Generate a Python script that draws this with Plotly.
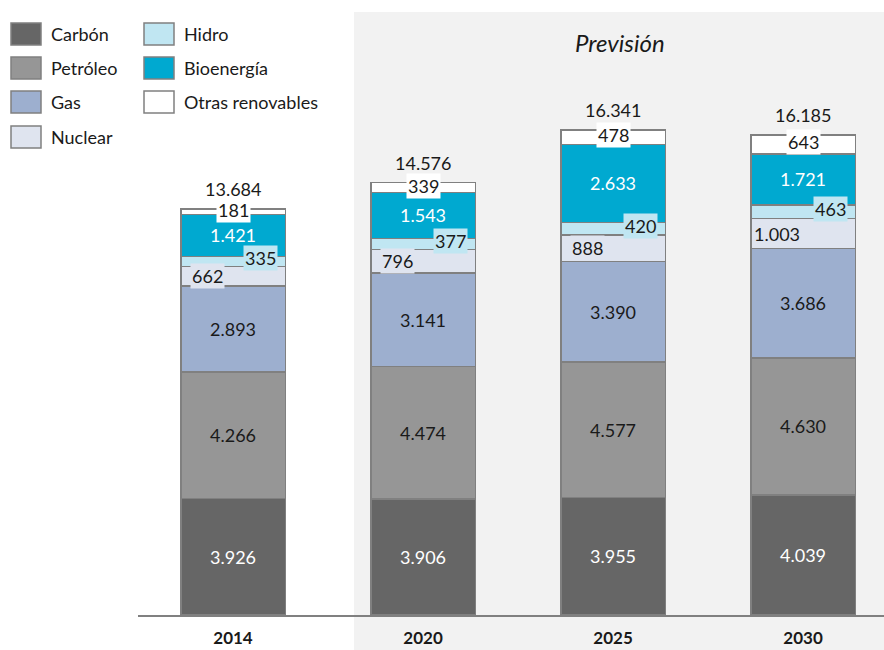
import plotly.graph_objects as go

# Datos (ktep)
years = ["2014", "2020", "2025", "2030"]
carbon = [3926, 3906, 3955, 4039]
petroleo = [4266, 4474, 4577, 4630]
gas = [2893, 3141, 3390, 3686]
nuclear = [662, 796, 888, 1003]
hidro = [335, 377, 420, 463]
bioenergia = [1421, 1543, 2633, 1721]
otras = [181, 339, 478, 643]
totals = [13684, 14576, 16341, 16185]

series = [
    ("Carbón", carbon, "#666666"),
    ("Petróleo", petroleo, "#969696"),
    ("Gas", gas, "#9dafcf"),
    ("Nuclear", nuclear, "#dfe4ef"),
    ("Hidro", hidro, "#c0e6f2"),
    ("Bioenergía", bioenergia, "#00a9d0"),
    ("Otras renovables", otras, "#ffffff"),
]

FONT = "Lato, Open Sans, sans-serif"
EDGE = "#808080"

# plot area in pixels
L, R, T, B = 138, 884, 12, 615
W, H = 884, 650


def px_x(x):
    return (x - L) / (R - L)


def px_y(y):
    return (B - y) / (B - T)


def fmt(v):
    return f"{v:,}".replace(",", ".")


fig = go.Figure()

for name, vals, color in series:
    fig.add_trace(go.Bar(
        x=years,
        y=vals,
        name=name,
        marker=dict(color=color, line=dict(color=EDGE, width=1.5)),
        width=0.55,
        showlegend=False,
        hovertemplate=f"<b>{name}</b> %{{x}}: %{{y}}<extra></extra>",
    ))

annotations = []
shapes = []

# Shaded forecast region
shapes.append(dict(
    type="rect", xref="paper", yref="paper",
    x0=px_x(354), x1=1.0, y0=px_y(650), y1=px_y(12),
    fillcolor="#f2f2f2", line=dict(width=0), layer="below",
))
annotations.append(dict(
    x=px_x(620), y=px_y(43), xref="paper", yref="paper",
    xanchor="center", yanchor="middle",
    text="<i>Previsión</i>", showarrow=False,
    font=dict(size=24, color="#1a1a1a", family=FONT),
))

# Segment labels
style = {
    "Carbón": dict(color="white", bg=None, xshift=0),
    "Petróleo": dict(color="#1a1a1a", bg=None, xshift=0),
    "Gas": dict(color="#1a1a1a", bg=None, xshift=0),
    "Nuclear": dict(color="#1a1a1a", bg="#dfe4ef", xshift=-26),
    "Hidro": dict(color="#1a1a1a", bg="#c0e6f2", xshift=27),
    "Bioenergía": dict(color="white", bg=None, xshift=0),
    "Otras renovables": dict(color="#1a1a1a", bg="#ffffff", xshift=0),
}
base = [0] * len(years)
for name, vals, color in series:
    st = style[name]
    for i, yr in enumerate(years):
        mid = base[i] + vals[i] / 2
        ann = dict(
            x=i, y=mid, xref="x", yref="y", text=fmt(vals[i]),
            showarrow=False, xshift=st["xshift"],
            xanchor="center", yanchor="middle",
            font=dict(size=18, color=st["color"], family=FONT),
        )
        if name == "Hidro":
            ann["yshift"] = 3
        if name == "Otras renovables":
            ann["yshift"] = 2
        if st["bg"]:
            ann["bgcolor"] = st["bg"]
            ann["borderpad"] = 1
        annotations.append(ann)
        base[i] += vals[i]

# Totals
for i, yr in enumerate(years):
    annotations.append(dict(
        x=i, y=totals[i], xref="x", yref="y", text=fmt(totals[i]),
        showarrow=False, xanchor="center", yanchor="bottom", yshift=7,
        font=dict(size=18, color="#1a1a1a", family=FONT),
    ))

# Legend (two columns)
legend_pos = [
    ("Carbón", 11, 34), ("Petróleo", 11, 68), ("Gas", 11, 102), ("Nuclear", 11, 137),
    ("Hidro", 144, 34), ("Bioenergía", 144, 68), ("Otras renovables", 144, 102),
]
colors = {n: c for n, _, c in series}
for name, lx, ly in legend_pos:
    shapes.append(dict(
        type="rect", xref="paper", yref="paper",
        x0=px_x(lx), x1=px_x(lx + 30), y0=px_y(ly + 11), y1=px_y(ly - 11),
        fillcolor=colors[name], line=dict(color=EDGE, width=1.5),
    ))
    annotations.append(dict(
        x=px_x(lx + 38), y=px_y(ly), xref="paper", yref="paper",
        text=name, showarrow=False, xanchor="left", yanchor="middle",
        font=dict(size=18, color="#1a1a1a", family=FONT),
    ))

fig.update_layout(
    barmode="stack",
    width=W,
    height=H,
    margin=dict(l=L, r=W - R, t=T, b=H - B),
    paper_bgcolor="white",
    plot_bgcolor="rgba(0,0,0,0)",
    showlegend=False,
    xaxis=dict(
        type="category",
        range=[-0.5, 3.426],
        showline=True,
        linecolor=EDGE,
        linewidth=1.5,
        showgrid=False,
        ticks="outside",
        ticklen=7,
        tickcolor="rgba(0,0,0,0)",
        tickfont=dict(size=17, color="#1a1a1a", family=FONT, weight="bold"),
    ),
    yaxis=dict(
        range=[0, 20323],
        visible=False,
        showgrid=False,
    ),
    shapes=shapes,
    annotations=annotations,
)

fig.write_html(
    "out.html",
    config={"displayModeBar": False},
    post_script="document.body.style.margin='0';document.body.style.overflow='hidden';",
)
